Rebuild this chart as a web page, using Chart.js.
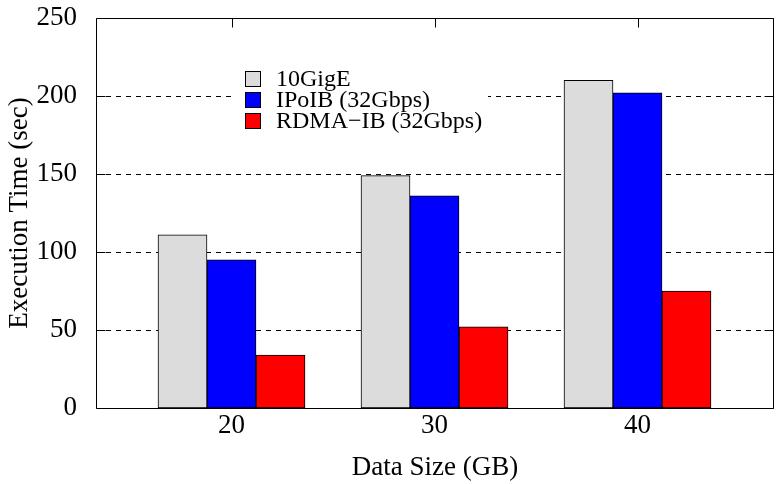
<!DOCTYPE html>
<html>
<head>
<meta charset="utf-8">
<script src="https://cdn.jsdelivr.net/npm/chart.js@4/dist/chart.umd.min.js"></script>
<style>
  html, body { margin: 0; padding: 0; background: #ffffff; }
  #wrap { width: 776px; height: 484px; }
</style>
</head>
<body>
<div id="wrap"><canvas id="c" width="776" height="484"></canvas></div>
<script>
// ---- data ----
const categories = [20, 30, 40];
const seriesNames = ['10GigE', 'IPoIB (32Gbps)', 'RDMA\u2212IB (32Gbps)'];
const tenGigE = [111, 149, 210];
const ipoib = [95, 136, 202];
const rdmaIB = [34, 52, 75];
const yTicks = [0, 50, 100, 150, 200, 250];
const xTitle = 'Data Size (GB)';
const yTitle = 'Execution Time (sec)';

const FONT = '"Liberation Serif", "Times New Roman", serif';
const colors = ['#dcdcdc', '#0000ff', '#ff0000'];
const seriesValues = [tenGigE, ipoib, rdmaIB];

const datasets = seriesValues.map((vals, k) => ({
  label: seriesNames[k],
  data: categories.map((c, i) => ({ x: c, y: vals[i] })),
  backgroundColor: colors[k],
  borderColor: '#000000',
  borderWidth: 1,
  borderSkipped: false,
  barThickness: 49
}));

const framePlugin = {
  id: 'framePlugin',
  beforeDatasetsDraw(chart) {
    const { ctx, chartArea: a, scales: { x, y } } = chart;
    ctx.save();
    ctx.strokeStyle = '#000000';
    ctx.lineWidth = 1;
    ctx.setLineDash([5, 5]);
    yTicks.forEach(v => {
      if (v === yTicks[0] || v === yTicks[yTicks.length - 1]) return;
      const py = Math.round(y.getPixelForValue(v)) + 0.5;
      ctx.beginPath();
      ctx.moveTo(a.left, py);
      ctx.lineTo(a.right, py);
      ctx.stroke();
    });
    ctx.setLineDash([]);
    categories.forEach(c => {
      const px = Math.round(x.getPixelForValue(c)) + 0.5;
      ctx.beginPath();
      ctx.moveTo(px, a.bottom);
      ctx.lineTo(px, a.bottom - 9);
      ctx.stroke();
    });
    ctx.restore();
  },
  afterDatasetsDraw(chart) {
    const { ctx, chartArea: a, scales: { x, y } } = chart;
    ctx.save();
    ctx.strokeStyle = '#000000';
    ctx.lineWidth = 1;
    ctx.setLineDash([]);
    const L = Math.round(a.left) + 0.5, R = Math.round(a.right) - 0.5;
    const T = Math.round(a.top) + 0.5, B = Math.round(a.bottom) + 0.5;
    yTicks.forEach(v => {
      const py = Math.round(y.getPixelForValue(v)) + 0.5;
      ctx.beginPath();
      ctx.moveTo(L, py); ctx.lineTo(L + 9, py);
      ctx.moveTo(R, py); ctx.lineTo(R - 9, py);
      ctx.stroke();
    });
    categories.forEach(c => {
      const px = Math.round(x.getPixelForValue(c)) + 0.5;
      ctx.beginPath();
      ctx.moveTo(px, T); ctx.lineTo(px, T + 9);
      ctx.stroke();
    });
    ctx.beginPath();
    ctx.moveTo(L, T); ctx.lineTo(R, T); ctx.lineTo(R, B); ctx.lineTo(L, B); ctx.closePath();
    ctx.stroke();

    // legend
    ctx.fillStyle = '#ffffff';
    ctx.fillRect(232, 66, 256, 68);
    ctx.font = '24px ' + FONT;
    ctx.textBaseline = 'middle';
    ctx.textAlign = 'left';
    chart.data.datasets.forEach((ds, k) => {
      const top = 71 + k * 21;
      ctx.fillStyle = ds.backgroundColor;
      ctx.fillRect(245, top, 16, 16);
      ctx.strokeStyle = '#000000';
      ctx.strokeRect(245.5, top + 0.5, 15, 15);
      ctx.fillStyle = '#000000';
      ctx.fillText(ds.label, 276, top + 9);
    });
    ctx.restore();
  }
};

new Chart(document.getElementById('c'), {
  type: 'bar',
  data: { datasets },
  options: {
    responsive: false,
    animation: false,
    devicePixelRatio: 1,
    layout: { padding: { top: 18, right: 2, left: 0, bottom: 0 } },
    plugins: { legend: { display: false }, tooltip: { enabled: false } },
    scales: {
      x: {
        type: 'linear',
        offset: false,
        min: 13.3251,
        max: 46.7241,
        afterBuildTicks(scale) { scale.ticks = categories.map(v => ({ value: v })); },
        afterFit(scale) { scale.height = 76; scale.paddingLeft = 0; scale.paddingRight = 0; },
        grid: { display: false },
        border: { display: false },
        ticks: {
          color: '#000000',
          font: { family: FONT, size: 27 },
          padding: -6,
          maxRotation: 0,
          callback: v => String(v)
        },
        title: {
          display: true,
          text: xTitle,
          color: '#000000',
          font: { family: FONT, size: 27 },
          padding: { top: 0, bottom: 0 }
        }
      },
      y: {
        min: 0,
        max: 250,
        afterBuildTicks(scale) { scale.ticks = yTicks.map(v => ({ value: v })); },
        afterFit(scale) { scale.width = 96; scale.paddingTop = 0; scale.paddingBottom = 0; },
        grid: { display: false },
        border: { display: false },
        ticks: {
          color: '#000000',
          font: { family: FONT, size: 27 },
          padding: 11
        },
        title: {
          display: true,
          text: yTitle,
          color: '#000000',
          font: { family: FONT, size: 27 },
          padding: { top: 4, bottom: 0 }
        }
      }
    }
  },
  plugins: [framePlugin]
});
</script>
</body>
</html>
